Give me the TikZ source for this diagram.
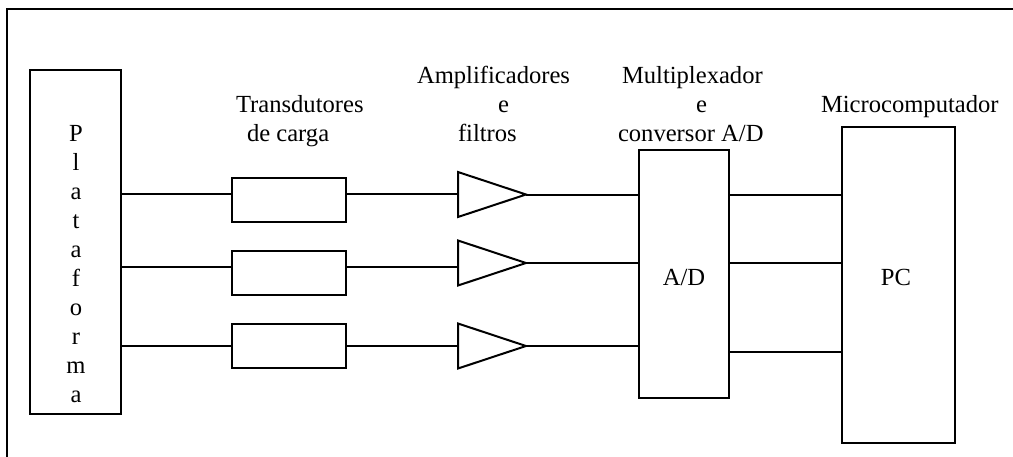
\documentclass[tikz,border=0pt]{standalone}
\usepackage{fontspec}
\setmainfont{Liberation Serif}
\begin{document}
\begin{tikzpicture}[x=1pt,y=-1pt,line width=2pt,
  blk/.style={draw,rectangle,inner sep=0pt,outer sep=0pt},
  ampbox/.style={rectangle,inner sep=0pt,outer sep=0pt,minimum width=68,minimum height=45},
  lbl/.style={inner sep=0pt,anchor=base west,align=left,font=\fontsize{24.6}{29}\selectfont},
  ctr/.style={inner sep=0pt,anchor=base,font=\fontsize{24.6}{29}\selectfont},
]
\useasboundingbox (0,0) rectangle (1013,456);
% frame
\draw (1013,9) -- (7,9) -- (7,460);
% platform
\node[blk,minimum width=91,minimum height=344] (plat) at (75.5,242) {};
\node[ctr,align=center,font=\fontsize{24.6}{28.9}\selectfont] (platxt) at (76,402) {P\\l\\a\\t\\a\\f\\o\\r\\m\\a};
% transducers
\node[blk,minimum width=114,minimum height=44.5] (t1) at (289,200) {};
\node[blk,minimum width=114,minimum height=44.5] (t2) at (289,273) {};
\node[blk,minimum width=114,minimum height=44.5] (t3) at (289,346) {};
% amplifiers
\node[ampbox] (a1) at (492,194.5) {};
\node[ampbox] (a2) at (492,263) {};
\node[ampbox] (a3) at (492,346) {};
\foreach \a in {a1,a2,a3}{
  \draw (\a.north west) -- (\a.east) -- (\a.south west) -- cycle;
}
% A/D and PC
\node[blk,minimum width=90,minimum height=248] (ad) at (684,274) {};
\node[ctr] (adtxt) at (684,285) {A/D};
\node[blk,minimum width=113,minimum height=316] (pc) at (898.5,285) {};
\node[ctr] (pctxt) at (896,285) {PC};
% labels (base anchor = last line's baseline)
\node[lbl] (ltr) at (235,141) {Transdutores\\\hspace*{11pt}de carga};
\node[lbl] (lamp) at (416,141) {Amplificadores\\\hspace*{81pt}e\\\hspace*{41pt}filtros};
\node[lbl] (lmux) at (617,141) {\hspace*{4pt}Multiplexador\\\hspace*{78pt}e\\conversor A/D};
\node[lbl] (lmc) at (820,112) {Microcomputador};
% row levels
\coordinate (r1) at (0,194);
\coordinate (r2) at (0,267);
\coordinate (r3) at (0,346);
\coordinate (q1) at (0,195);
\coordinate (q2) at (0,263);
\coordinate (q3) at (0,352);
% connectors
\draw (plat.east |- r1) -- (t1.west |- r1);
\draw (plat.east |- r2) -- (t2.west |- r2);
\draw (plat.east |- r3) -- (t3.west |- r3);
\draw (t1.east |- r1) -- (a1.west |- r1);
\draw (t2.east |- r2) -- (a2.west |- r2);
\draw (t3.east |- r3) -- (a3.west |- r3);
\draw (a1.east) -- (ad.west |- a1.east);
\draw (a2.east) -- (ad.west |- a2.east);
\draw (a3.east) -- (ad.west |- a3.east);
\draw (ad.east |- q1) -- (pc.west |- q1);
\draw (ad.east |- q2) -- (pc.west |- q2);
\draw (ad.east |- q3) -- (pc.west |- q3);
\end{tikzpicture}
\end{document}
